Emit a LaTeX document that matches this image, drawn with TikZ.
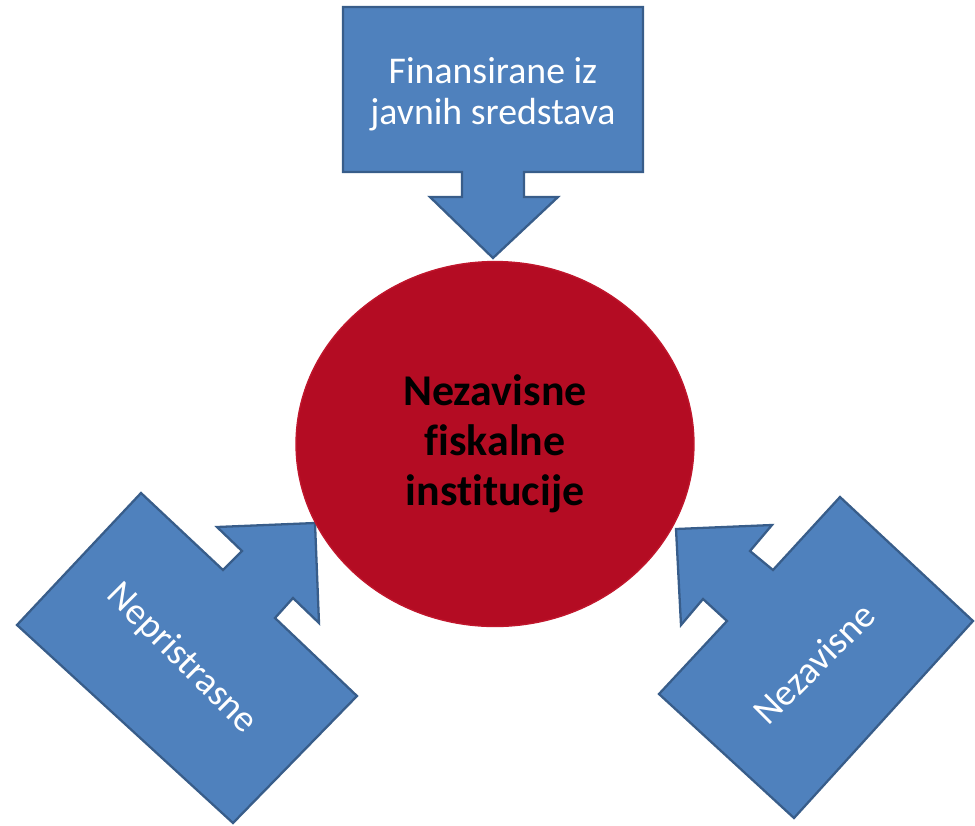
\documentclass[tikz,border=0pt]{standalone}
\usepackage{fontspec}
\setmainfont{Carlito}[Ligatures=NoCommon]
\usepackage{xcolor}
\usepackage{tikz}
\usetikzlibrary{
  shapes.geometric,
  positioning
}
\definecolor{CalloutBlue}{HTML}{4F81BD}
\definecolor{CalloutEdge}{HTML}{385D8A}
\definecolor{CoreRed}{HTML}{B40C23}
\definecolor{CoreEdge}{HTML}{C0162C}
\tikzset{
  callout/.style={
    fill=CalloutBlue,
    draw=CalloutEdge,
    line width=1.3pt,
    line join=miter
  },
  calloutlabel/.style={
    text=white,
    align=center,
    font=\fontsize{21.5}{23.5}\selectfont
  },
  core/.style={
    ellipse,
    fill=CoreRed,
    draw=CoreEdge,
    line width=0.8pt,
    minimum width=7.96cm,
    minimum height=7.3cm,
    align=center,
    font=\bfseries\fontsize{25}{28.5}\selectfont
  }
}

\begin{document}
\begin{tikzpicture}[x=0.02cm,y=-0.02cm]

  \useasboundingbox (0,0) rectangle (975,826);

  % top callout
  \draw[callout]
  (343,7) -- (643,7) -- (643,172) -- (524,172) -- (524,197) --
  (558,197) -- (493,258) -- (430,197) -- (462,197) -- (462,172) --
  (343,172) -- cycle;

  % left callout
  \draw[callout]
  (141,493) -- (223,570) -- (242,551) -- (217,527) -- (315,523) --
  (319,623) -- (293,598) -- (275,618) -- (357,696) -- (233,823) --
  (17,625) -- cycle;

  % right callout
  \draw[callout]
  (840,497) -- (973,621) -- (794,818) -- (659,694) -- (727,621) --
  (703,599) -- (681,625) -- (676,529) -- (772,525) -- (750,551) --
  (773,570) -- cycle;

  \node[core] at (495,444) (institucije) {
    Nezavisne\\
    fiskalne\\
    institucije
  };

  \node[calloutlabel] at (493,94) (finansirane) {
    Finansirane iz\\
    javnih sredstava
  };

  \node[
    calloutlabel,
    rotate=-45
  ] at (185,662) (nepristrasne) {
    Nepristrasne
  };

  \node[
    calloutlabel,
    rotate=45
  ] at (817,660) (nezavisne) {
    Nezavisne
  };

\end{tikzpicture}
\end{document}
